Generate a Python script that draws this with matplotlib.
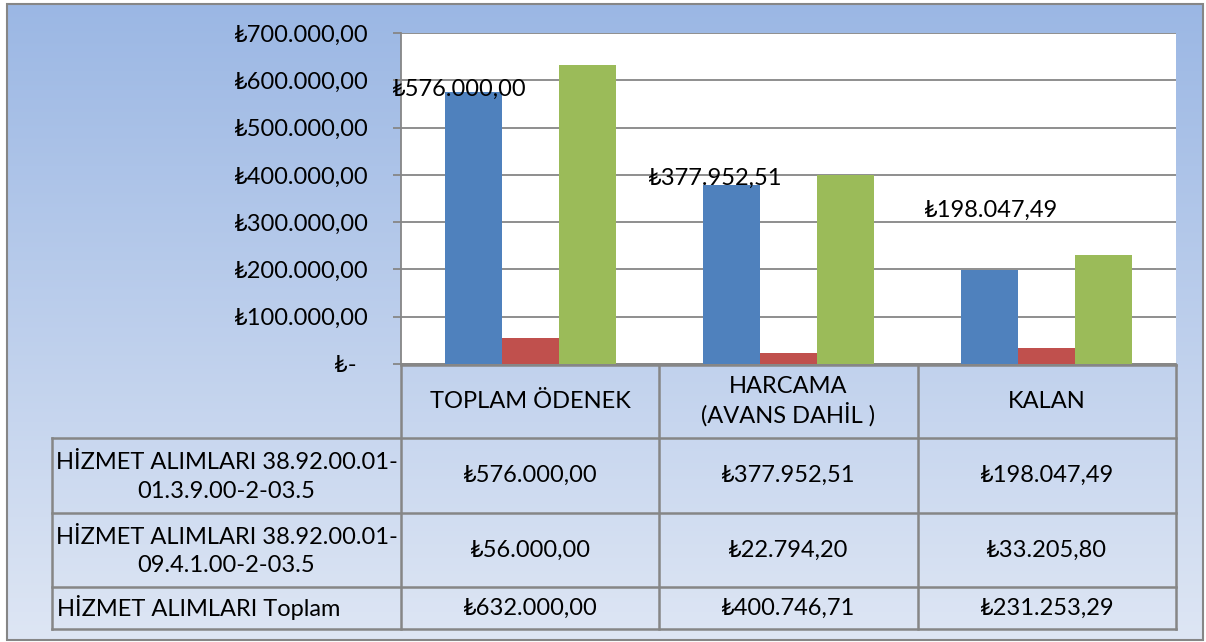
import numpy as np
import matplotlib.pyplot as plt
from matplotlib.patches import Rectangle

plt.rcParams['font.family'] = ['Lato', 'DejaVu Sans']

categories = ["TOPLAM ÖDENEK", "HARCAMA\n(AVANS DAHİL )", "KALAN"]
series_names = ["HİZMET ALIMLARI 38.92.00.01-\n01.3.9.00-2-03.5",
                "HİZMET ALIMLARI 38.92.00.01-\n09.4.1.00-2-03.5",
                "HİZMET ALIMLARI Toplam"]
s_first = [576000.00, 377952.51, 198047.49]
s_second = [56000.00, 22794.20, 33205.80]
s_total = [632000.00, 400746.71, 231253.29]
colors = ["#4F81BD", "#C0504D", "#9BBB59"]
yticks = [0, 100000, 200000, 300000, 400000, 500000, 600000, 700000]
# offsets of the blue data labels (points), Excel put them a bit oddly
label_offsets = [(-10, 2), (-12, 5), (1, 43)]


def tl(v):
    if v == 0:
        return "₺-  "
    s = f"{v:,.2f}".replace(",", "X").replace(".", ",").replace("X", ".")
    return "₺" + s


W, H = 1206, 642
FS = 17
grey = "#868686"
fig = plt.figure(figsize=(W / 100, H / 100), dpi=100)

# background gradient + frame
bg = fig.add_axes([0, 0, 1, 1])
bg.set_xlim(0, W); bg.set_ylim(H, 0); bg.axis("off")
top = np.array([0.608, 0.718, 0.894])
bot = np.array([0.870, 0.902, 0.957])
t = np.linspace(0, 1, 256)[:, None, None]
grad = top * (1 - t) + bot * t
bg.imshow(np.repeat(grad, 2, axis=1), extent=[7, 1203, 640, 4], aspect="auto", zorder=0)
bg.add_patch(Rectangle((7, 4), 1196, 636, fill=False, ec=grey, lw=1.5, zorder=3))

# bar chart
x0, x1, y0, y1 = 401, 1176, 33, 364
ax = fig.add_axes([x0 / W, 1 - y1 / H, (x1 - x0) / W, (y1 - y0) / H])
ax.set_facecolor("white")
x = np.arange(len(categories))
bw = 0.2207
for i, (vals, c) in enumerate(zip([s_first, s_second, s_total], colors)):
    ax.bar(x + (i - 1) * bw, vals, bw, color=c, zorder=3)
ax.set_xlim(-0.5, 2.5)
ax.set_ylim(0, 700000)
ax.set_yticks(yticks)
ax.set_yticklabels([tl(v) for v in yticks], fontsize=FS)
ax.grid(axis="y", color=grey, lw=1.3, zorder=1)
ax.tick_params(axis="y", length=6, width=1.3, color=grey, pad=17)
ax.set_xticks([])
for sp in ["top", "right"]:
    ax.spines[sp].set_visible(False)
for sp in ["left", "bottom"]:
    ax.spines[sp].set_color(grey)
    ax.spines[sp].set_linewidth(1.3)
for xi, v, off in zip(x - bw, s_first, label_offsets):
    ax.annotate(tl(v), (xi, v), xytext=off, textcoords="offset points",
                ha="center", va="center", fontsize=FS, zorder=5)

# data table underneath, in pixel coords on the background axes
col_edges = [x0 + (x1 - x0) * j / 3 for j in range(4)]
lab_left = 52
row_edges = [365, 438, 513, 587, 629]
lk = dict(color=grey, lw=1.8, zorder=4)
# header row (no row-label cell)
bg.plot([col_edges[0], col_edges[-1]], [row_edges[0]] * 2, **lk)
for r in row_edges[1:]:
    bg.plot([lab_left, col_edges[-1]], [r, r], **lk)
for cx in col_edges:
    bg.plot([cx, cx], [row_edges[0], row_edges[-1]], **lk)
bg.plot([lab_left, lab_left], [row_edges[1], row_edges[-1]], **lk)

for j, cat in enumerate(categories):
    cx = (col_edges[j] + col_edges[j + 1]) / 2
    cy = (row_edges[0] + row_edges[1]) / 2
    bg.text(cx, cy, cat, ha="center", va="center", fontsize=FS, linespacing=1.25, zorder=5)

for i, (name, vals) in enumerate(zip(series_names, [s_first, s_second, s_total])):
    cy = (row_edges[i + 1] + row_edges[i + 2]) / 2
    lines = name.split("\n")
    if len(lines) > 1:
        # wrapped labels: each line centred in the cell
        lx = (lab_left + col_edges[0]) / 2
        for k, ln in enumerate(lines):
            bg.text(lx, cy - 13 + 29 * k, ln, ha="center", va="center", fontsize=FS, zorder=5)
    else:
        bg.text(lab_left + 5, cy, name, ha="left", va="center", fontsize=FS, zorder=5)
    for j, v in enumerate(vals):
        cx = (col_edges[j] + col_edges[j + 1]) / 2
        bg.text(cx, cy, tl(v), ha="center", va="center", fontsize=FS, zorder=5)

fig.savefig("out.png", dpi=100)
